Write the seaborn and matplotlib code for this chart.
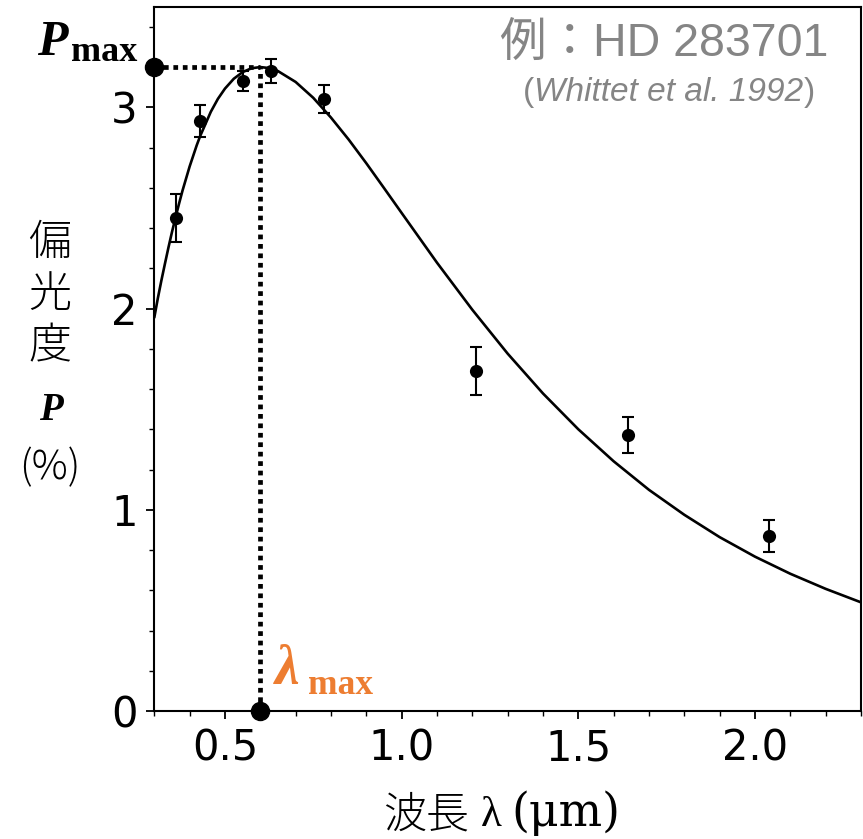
import numpy as np
import pandas as pd
import matplotlib
matplotlib.use('Agg')
import matplotlib.pyplot as plt
import seaborn as sns
from matplotlib.ticker import MultipleLocator

wavelength = [0.36, 0.43, 0.55, 0.63, 0.78, 1.21, 1.64, 2.04]
polarization = [2.45, 2.93, 3.13, 3.18, 3.04, 1.69, 1.37, 0.87]
pol_error = [0.12, 0.08, 0.05, 0.06, 0.07, 0.12, 0.09, 0.08]

# fitted curve, points
curve_wl = [0.30, 0.31, 0.32, 0.33, 0.34, 0.35, 0.36, 0.37, 0.38, 0.40, 0.42,
            0.43, 0.46, 0.48, 0.50, 0.525, 0.55, 0.575, 0.60, 0.625, 0.65,
            0.70, 0.75, 0.80, 0.85, 0.90, 0.95, 1.00, 1.10, 1.20, 1.30, 1.40,
            1.50, 1.60, 1.70, 1.80, 1.90, 2.00, 2.10, 2.20, 2.30]
curve_pol = [1.955, 2.051, 2.139, 2.222, 2.303, 2.380, 2.452, 2.521, 2.587,
             2.706, 2.811, 2.858, 2.978, 3.042, 3.093, 3.142, 3.175, 3.194,
             3.200, 3.195, 3.180, 3.126, 3.047, 2.949, 2.840, 2.722, 2.599,
             2.475, 2.228, 1.994, 1.776, 1.578, 1.400, 1.241, 1.099, 0.975,
             0.864, 0.767, 0.682, 0.607, 0.540]

p_max = 3.2
lam_max = 0.6

W, H = 863, 839
orange = '#ED7D31'
gray = '#858585'

sns.set_style('ticks')
plt.rcParams['font.family'] = ['DejaVu Sans', 'Noto Sans CJK JP']
plt.rcParams['axes.edgecolor'] = 'black'
plt.rcParams['xtick.color'] = 'black'
plt.rcParams['ytick.color'] = 'black'
plt.rcParams['text.color'] = 'black'

fig = plt.figure(figsize=(W / 100, H / 100), dpi=100)
ax = fig.add_axes([154.3 / W, 1 - 711 / H, (861 - 154.3) / W, (711 - 6.7) / H])

def px(x, y):
    return x / W, 1 - y / H

curve_df = pd.DataFrame({'wl': curve_wl, 'pol': curve_pol})
sns.lineplot(data=curve_df, x='wl', y='pol', color='black', lw=1.9, ax=ax)

ax.errorbar(wavelength, polarization, yerr=pol_error, fmt='none', ecolor='black',
            elinewidth=1.5, capsize=4.5, capthick=1.5, zorder=3)
sns.scatterplot(x=wavelength, y=polarization, color='black', s=90, edgecolor='black',
                linewidth=0, zorder=4, ax=ax)

# guide lines to P_max and lambda_max
ax.plot([0.3, lam_max], [p_max, p_max], ls=(0, (1, 1)), lw=3.4, color='black', zorder=2)
ax.plot([lam_max, lam_max], [0, p_max], ls=(0, (1, 1)), lw=3.4, color='black', zorder=2)
ax.plot([0.3], [p_max], 'o', ms=13, color='black', clip_on=False, zorder=5)
ax.plot([lam_max], [0], 'o', ms=13, color='black', clip_on=False, zorder=5)

ax.set_xlim(0.3, 2.3)
ax.set_ylim(0, 3.5)
ax.xaxis.set_major_locator(MultipleLocator(0.5))
ax.xaxis.set_minor_locator(MultipleLocator(0.1))
ax.yaxis.set_major_locator(MultipleLocator(1))
ax.yaxis.set_minor_locator(MultipleLocator(0.2))
ax.set_xticks([0.5, 1.0, 1.5, 2.0])
ax.set_xticklabels(['0.5', '1.0', '1.5', '2.0'])
ax.tick_params(axis='both', which='major', labelsize=30, length=6, width=1.3, pad=6,
               colors='black')
ax.tick_params(axis='both', which='minor', length=3.5, width=1, colors='black')
for s in ax.spines.values():
    s.set_linewidth(1.5)
    s.set_color('black')
ax.set_xlabel('')
ax.set_ylabel('')

# P_max and lambda_max labels
fig.text(*px(37, 55), 'P', fontsize=36, fontfamily='Liberation Serif',
         fontweight='bold', fontstyle='italic', va='baseline', ha='left')
fig.text(*px(71, 61), 'max', fontsize=26, fontfamily='Liberation Serif',
         fontweight='bold', va='baseline', ha='left')
fig.text(*px(275, 684), 'λ', fontsize=40, fontfamily='Liberation Serif',
         fontweight='bold', fontstyle='italic', color=orange, va='baseline', ha='left')
fig.text(*px(308, 694), 'max', fontsize=25.5, fontfamily='Liberation Serif',
         fontweight='bold', color=orange, va='baseline', ha='left')

# star name and reference
fig.text(*px(828, 57), '例：HD 283701', fontsize=33.5, color=gray,
         fontfamily=['Liberation Sans', 'Noto Sans CJK JP'], va='baseline', ha='right')

renderer = fig.canvas.get_renderer()
t_close = fig.text(*px(815, 101), ')', fontsize=24, color=gray,
                   fontfamily='Liberation Sans', va='baseline', ha='right')
x_close = t_close.get_window_extent(renderer).x0
t_mid = fig.text(x_close / W - 1 / W, 1 - 101 / H, 'Whittet et al. 1992', fontsize=24,
                 color=gray, fontfamily='Liberation Sans', fontstyle='italic',
                 va='baseline', ha='right')
x_mid = t_mid.get_window_extent(renderer).x0
fig.text(x_mid / W + 1 / W, 1 - 101 / H, '(', fontsize=24, color=gray,
         fontfamily='Liberation Sans', va='baseline', ha='right')

# vertical y label
for ch, yc in [('偏', 242), ('光', 294), ('度', 346)]:
    fig.text(*px(50, yc), ch, fontsize=31, fontfamily='Noto Sans CJK JP',
             fontweight='light', va='center', ha='center')
fig.text(*px(51, 410), 'P', fontsize=28, fontfamily='Liberation Serif',
         fontweight='bold', fontstyle='italic', va='center', ha='center')
fig.text(*px(50, 468), '(%)', fontsize=29, fontfamily='Noto Sans CJK JP',
         fontweight='light', va='center', ha='center')

# x label
fig.text(*px(469, 828), '波長', fontsize=31, fontfamily='Noto Sans CJK JP',
         fontweight='light', va='baseline', ha='right')
fig.text(*px(481, 826), 'λ', fontsize=31, fontfamily='Liberation Serif',
         va='baseline', ha='left')
fig.text(*px(511, 826), '(μm)', fontsize=33, fontfamily='DejaVu Serif',
         va='baseline', ha='left')

fig.savefig('out.png', dpi=100)
